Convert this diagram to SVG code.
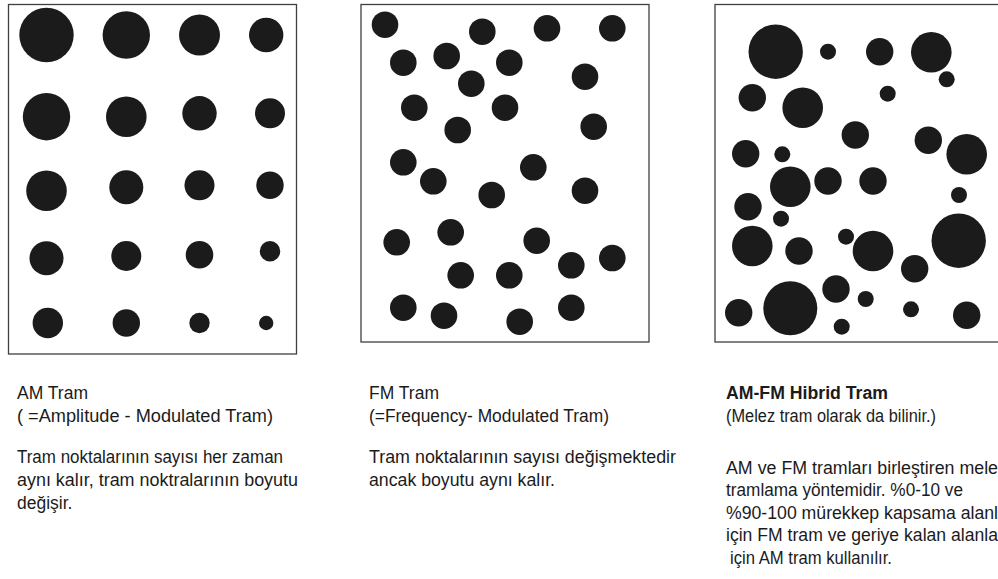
<svg xmlns="http://www.w3.org/2000/svg" width="998" height="579" viewBox="0 0 998 579">
<style>
.frame{fill:#fff;stroke:#404040;stroke-width:1.3}
.dots circle{fill:#1b1b1b}
text{font-family:"Liberation Sans",Arial,sans-serif;font-size:17.5px;fill:#1b1b1b}
.b{font-weight:bold}
</style>
<rect width="998" height="579" fill="#fff"/>
<g id="am-tram">
<rect class="frame" x="8.5" y="4.5" width="288" height="349.5"/>
<g class="dots">
<circle cx="46.5" cy="35" r="27.2"/><circle cx="126.3" cy="35" r="23.7"/><circle cx="199.5" cy="35" r="20.5"/><circle cx="266.2" cy="35" r="17.2"/>
<circle cx="46.5" cy="116.7" r="23.7"/><circle cx="126.3" cy="116.7" r="20.3"/><circle cx="199.5" cy="113.3" r="17.2"/><circle cx="270" cy="113.3" r="15"/>
<circle cx="46.5" cy="190.7" r="20.3"/><circle cx="126.3" cy="187.3" r="17"/><circle cx="199.5" cy="185.3" r="15"/><circle cx="270" cy="185.3" r="13.7"/>
<circle cx="46.5" cy="258.3" r="17"/><circle cx="126.3" cy="256" r="15"/><circle cx="199.5" cy="254.7" r="13.8"/><circle cx="270" cy="251.3" r="10.2"/>
<circle cx="47.8" cy="323" r="15.2"/><circle cx="126.3" cy="323" r="13.7"/><circle cx="199.5" cy="323" r="10.2"/><circle cx="266.2" cy="323" r="7.2"/>
</g>
<text x="17" y="398.5">AM Tram</text>
<text x="17" y="421.5" textLength="256" lengthAdjust="spacingAndGlyphs">( =Amplitude - Modulated Tram)</text>
<text x="17" y="463" textLength="266" lengthAdjust="spacingAndGlyphs">Tram noktalarının sayısı her zaman</text>
<text x="17" y="486" textLength="281" lengthAdjust="spacingAndGlyphs">aynı kalır, tram noktralarının boyutu</text>
<text x="17" y="509">değişir.</text>
</g>
<g id="fm-tram">
<rect class="frame" x="361" y="4.5" width="288" height="337.5"/>
<g class="dots">
<circle cx="385" cy="24.7" r="13.3"/><circle cx="482.3" cy="31.7" r="13.3"/><circle cx="547" cy="28.3" r="13.3"/><circle cx="612.3" cy="28.3" r="13.3"/>
<circle cx="403.3" cy="62.7" r="13.3"/><circle cx="446.7" cy="56" r="13.3"/><circle cx="509.3" cy="62.7" r="13.3"/><circle cx="585" cy="76.7" r="13.3"/>
<circle cx="471.3" cy="83.7" r="13.3"/><circle cx="414.3" cy="107.7" r="13.3"/><circle cx="505" cy="107.7" r="13.3"/><circle cx="593.7" cy="126.7" r="13.3"/>
<circle cx="457.7" cy="130" r="13.3"/><circle cx="403.3" cy="162.3" r="13.3"/><circle cx="433.3" cy="181.3" r="13.3"/><circle cx="533.3" cy="167.3" r="13.3"/>
<circle cx="491.7" cy="195" r="13.3"/><circle cx="585" cy="190.7" r="13.3"/><circle cx="396.7" cy="242.3" r="13.3"/><circle cx="450.7" cy="232.3" r="13.3"/>
<circle cx="536.7" cy="240.7" r="13.3"/><circle cx="571.3" cy="265.3" r="13.3"/><circle cx="612.3" cy="258" r="13.3"/><circle cx="460.7" cy="275.3" r="13.3"/>
<circle cx="509.3" cy="275.3" r="13.3"/><circle cx="403.3" cy="307.7" r="13.3"/><circle cx="444" cy="315.7" r="13.3"/><circle cx="519.7" cy="321.7" r="13.3"/>
<circle cx="571.3" cy="307.7" r="13.3"/>
</g>
<text x="369" y="398.5">FM Tram</text>
<text x="369" y="421.5" textLength="240" lengthAdjust="spacingAndGlyphs">(=Frequency- Modulated Tram)</text>
<text x="369" y="463" textLength="307" lengthAdjust="spacingAndGlyphs">Tram noktalarının sayısı değişmektedir</text>
<text x="369" y="486" textLength="186" lengthAdjust="spacingAndGlyphs">ancak boyutu aynı kalır.</text>
</g>
<g id="am-fm-hibrid-tram">
<rect class="frame" x="715" y="4.5" width="300" height="337.5"/>
<g class="dots">
<circle cx="775.7" cy="51.7" r="27.2"/><circle cx="828" cy="51.7" r="8"/><circle cx="879.7" cy="51.7" r="13.7"/><circle cx="931.3" cy="52.3" r="20.3"/>
<circle cx="946.7" cy="79.3" r="8"/><circle cx="752.3" cy="97.7" r="13.7"/><circle cx="802.7" cy="107.7" r="20.3"/><circle cx="887.7" cy="93.7" r="8"/>
<circle cx="855.3" cy="135" r="13.7"/><circle cx="928.3" cy="140.3" r="13.7"/><circle cx="966.7" cy="154.3" r="20.3"/><circle cx="745.7" cy="153.7" r="13.7"/>
<circle cx="782.3" cy="154.3" r="8"/><circle cx="790.3" cy="186.7" r="20.3"/><circle cx="828" cy="181" r="13.7"/><circle cx="873" cy="181" r="13.7"/>
<circle cx="959" cy="195" r="8"/><circle cx="748" cy="206.7" r="13.7"/><circle cx="781" cy="218.7" r="8"/><circle cx="752.3" cy="246" r="20.3"/>
<circle cx="799" cy="251" r="13.7"/><circle cx="846" cy="236.7" r="8"/><circle cx="873" cy="251" r="20.3"/><circle cx="958.7" cy="240.7" r="27.2"/>
<circle cx="914.7" cy="268.7" r="13.7"/><circle cx="836" cy="289" r="13.7"/><circle cx="790.3" cy="308.3" r="27"/><circle cx="738.7" cy="312.7" r="13.7"/>
<circle cx="865.7" cy="299" r="8"/><circle cx="841.7" cy="326.7" r="8"/><circle cx="911" cy="309.3" r="8"/><circle cx="966.7" cy="315.3" r="13.7"/>
</g>
<text class="b" x="726" y="398.5" textLength="162" lengthAdjust="spacingAndGlyphs">AM-FM Hibrid Tram</text>
<text x="726" y="421.5" textLength="210" lengthAdjust="spacingAndGlyphs">(Melez tram olarak da bilinir.)</text>
<text x="726" y="473.5" textLength="272" lengthAdjust="spacingAndGlyphs">AM ve FM tramları birleştiren mele</text>
<text x="726" y="496" textLength="237" lengthAdjust="spacingAndGlyphs">tramlama yöntemidir. %0-10 ve</text>
<text x="726" y="518.5" textLength="272" lengthAdjust="spacingAndGlyphs">%90-100 mürekkep kapsama alanl</text>
<text x="726" y="541" textLength="272" lengthAdjust="spacingAndGlyphs">için FM tram ve geriye kalan alanla</text>
<text x="730" y="563.5" textLength="162" lengthAdjust="spacingAndGlyphs">için AM tram kullanılır.</text>
</g>
</svg>
